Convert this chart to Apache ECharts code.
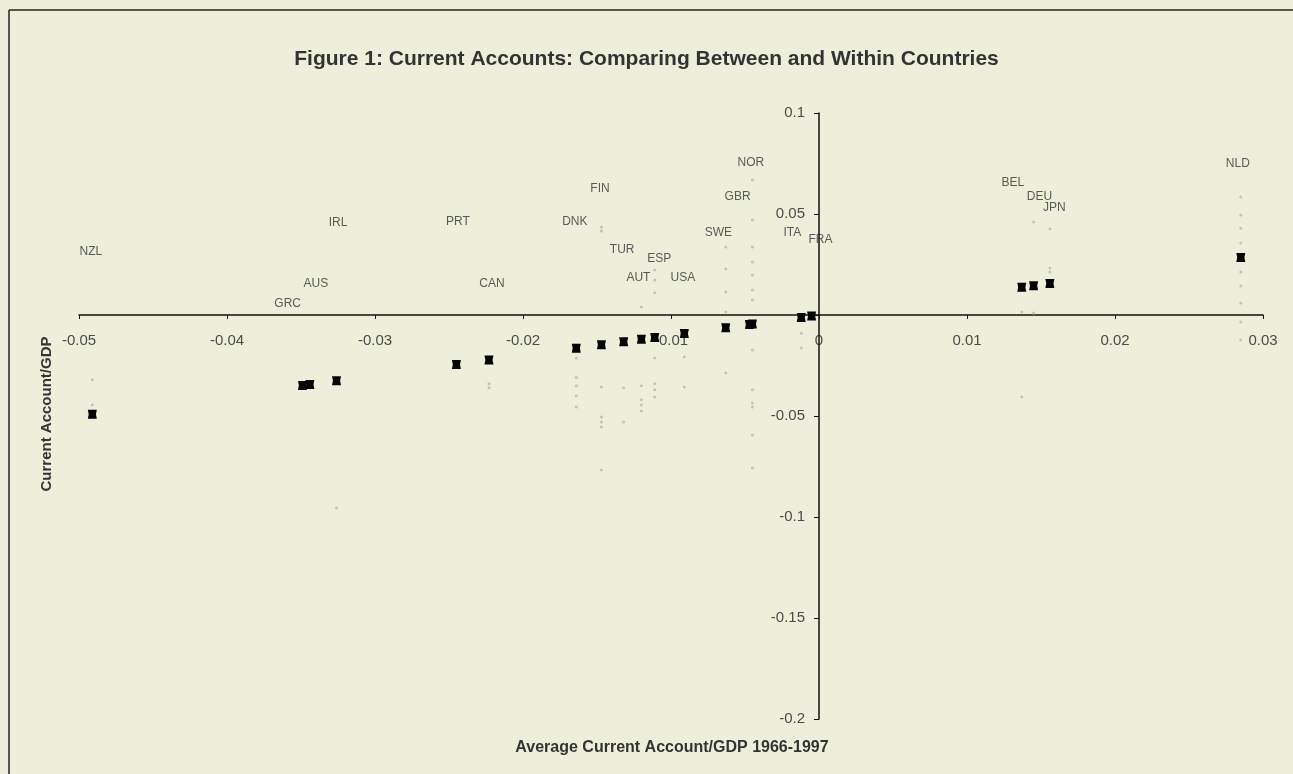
<!DOCTYPE html>
<html><head><meta charset="utf-8">
<script src="https://cdn.jsdelivr.net/npm/echarts@6/dist/echarts.min.js"></script>
<style>html,body{margin:0;padding:0;background:#edefdb}#c{width:1293px;height:774px}</style>
</head><body><div id="c"></div>
<script>
// Country codes and their 1966-1997 average current account / GDP
const countries = ['NZL','GRC','AUS','IRL','PRT','CAN','DNK','FIN','TUR','AUT','ESP','USA','SWE','GBR','NOR','ITA','FRA','BEL','DEU','JPN','NLD'];
const meanCA    = [-0.0491,-0.0349,-0.0344,-0.0326,-0.0245,-0.0223,-0.0164,-0.0147,-0.0132,-0.0120,-0.0111,-0.0091,-0.0063,-0.0047,-0.0045,-0.0012,-0.0005,0.0137,0.0145,0.0156,0.0285];
// Label anchor positions (data units)
const labelX = [-0.0492,-0.0359,-0.0340,-0.0325,-0.0244,-0.0221,-0.0165,-0.0148,-0.0133,-0.0122,-0.0108,-0.0092,-0.0068,-0.0055,-0.0046,-0.0018,0.0001,0.0131,0.0149,0.0159,0.0283];
const labelY = [0.0312,0.0054,0.0153,0.0455,0.0460,0.0153,0.0460,0.0624,0.0322,0.0183,0.0277,0.0183,0.0406,0.0584,0.0752,0.0406,0.0371,0.0653,0.0584,0.0530,0.0748];
// Visible annual observations (faint), per country
const obsCountries = ['NZL','IRL','CAN','DNK','FIN','TUR','AUT','ESP','USA','SWE','NOR','ITA','BEL','DEU','JPN','NLD'];
const obsValues = [
  [-0.032,-0.0446],
  [-0.0955],
  [-0.036,-0.034],
  [-0.0213,-0.031,-0.035,-0.040,-0.0455],
  [0.0416,0.0436,-0.0356,-0.0505,-0.053,-0.0554,-0.0767],
  [-0.053,-0.036],
  [0.004,-0.035,-0.042,-0.0446,-0.0475],
  [0.0223,0.0173,0.011,-0.0213,-0.034,-0.037,-0.0406],
  [-0.0208,-0.0356],
  [0.0337,0.0228,0.0114,0.0015,-0.0287],
  [0.0668,0.047,0.0337,0.0262,0.0198,0.0124,0.0074,-0.0173,-0.037,-0.0436,-0.0455,-0.0594,-0.0757],
  [-0.009,-0.0163],
  [-0.0406,0.0015],
  [0.046,0.001],
  [0.0426,0.0233,0.0213],
  [0.0584,0.0495,0.043,0.0356,0.0292,0.0213,0.0144,0.0059,-0.0035,-0.0124]
];
const xTicks = [-0.05,-0.04,-0.03,-0.02,-0.01,0,0.01,0.02,0.03];
const yTicks = [-0.2,-0.15,-0.1,-0.05,0.05,0.1];

const meanData = countries.map((c,i)=>[meanCA[i], meanCA[i], c]);
const labelData = countries.map((c,i)=>[labelX[i], labelY[i], c]);
const obsData = [];
obsCountries.forEach((c,i)=>{
  const x = meanCA[countries.indexOf(c)];
  obsValues[i].forEach(v=>obsData.push([x, v, c]));
});
const xTickData = xTicks.map(t=>[t, 0, String(t)]);
const yTickData = yTicks.map(t=>[0, t, String(t)]);

const FONT = 'Liberation Sans, Arial';
const chart = echarts.init(document.getElementById('c'));
chart.setOption({
  backgroundColor: '#edefdb',
  animation: false,
  title: {
    text: 'Figure 1: Current Accounts: Comparing Between and Within Countries',
    left: 'center', top: 44,
    textStyle: { fontFamily: FONT, fontWeight: 'bold', fontSize: 21, color: '#333' }
  },
  grid: { left: 79, right: 30, top: 113, bottom: 55 },
  xAxis: {
    type: 'value', min: -0.05, max: 0.03, interval: 0.01,
    axisLine: { onZero: true, lineStyle: { color: '#111', width: 1.5 } },
    axisTick: { show: true, length: 4, lineStyle: { color: '#111' } },
    axisLabel: { show: false },
    splitLine: { show: false }
  },
  yAxis: {
    type: 'value', min: -0.2, max: 0.1, interval: 0.05,
    axisLine: { onZero: true, lineStyle: { color: '#111', width: 1.5 } },
    axisTick: { show: true, length: 5, lineStyle: { color: '#111' } },
    axisLabel: { show: false },
    splitLine: { show: false }
  },
  graphic: [
    { type: 'line', shape: { x1: 9, y1: 10, x2: 1293, y2: 10 }, style: { stroke: '#222', lineWidth: 1.5 } },
    { type: 'line', shape: { x1: 9, y1: 10, x2: 9, y2: 774 }, style: { stroke: '#222', lineWidth: 1.5 } },
    { type: 'text', position: [672, 748],
      style: { text: 'Average Current Account/GDP 1966-1997', font: 'bold 16px "Liberation Sans", Arial', fill: '#333', textAlign: 'center', textVerticalAlign: 'middle' } },
    { type: 'text', rotation: Math.PI/2, position: [47, 414],
      style: { text: 'Current Account/GDP', font: 'bold 15px "Liberation Sans", Arial', fill: '#333', textAlign: 'center', textVerticalAlign: 'middle' } }
  ],
  series: [
    { type: 'scatter', name: 'obs', data: obsData, symbol: 'circle', symbolSize: 3,
      itemStyle: { color: '#c3c4b8', opacity: 1 }, z: 2 },
    { type: 'scatter', name: 'mean', data: meanData, symbol: 'path://M0,0 L10,0 L9,5 L10,10 L0,10 L1,5 Z', symbolSize: 9,
      itemStyle: { color: '#050505', opacity: 1 }, z: 4 },
    { type: 'scatter', name: 'labels', data: labelData, symbolSize: 0, silent: true,
      label: { show: true, position: 'inside', formatter: p => p.data[2],
        fontFamily: FONT, fontSize: 12, color: '#333' }, z: 5 },
    { type: 'scatter', name: 'xticks', data: xTickData, symbolSize: 0, silent: true,
      label: { show: true, position: 'inside', offset: [0, 26], formatter: p => p.data[2],
        fontFamily: FONT, fontSize: 15, color: '#222' }, z: 3 },
    { type: 'scatter', name: 'yticks', data: yTickData, symbolSize: 0, silent: true,
      label: { show: true, position: 'inside', align: 'right', offset: [-14, 0], formatter: p => p.data[2],
        fontFamily: FONT, fontSize: 15, color: '#222' }, z: 3 }
  ]
});
</script>
</body></html>
